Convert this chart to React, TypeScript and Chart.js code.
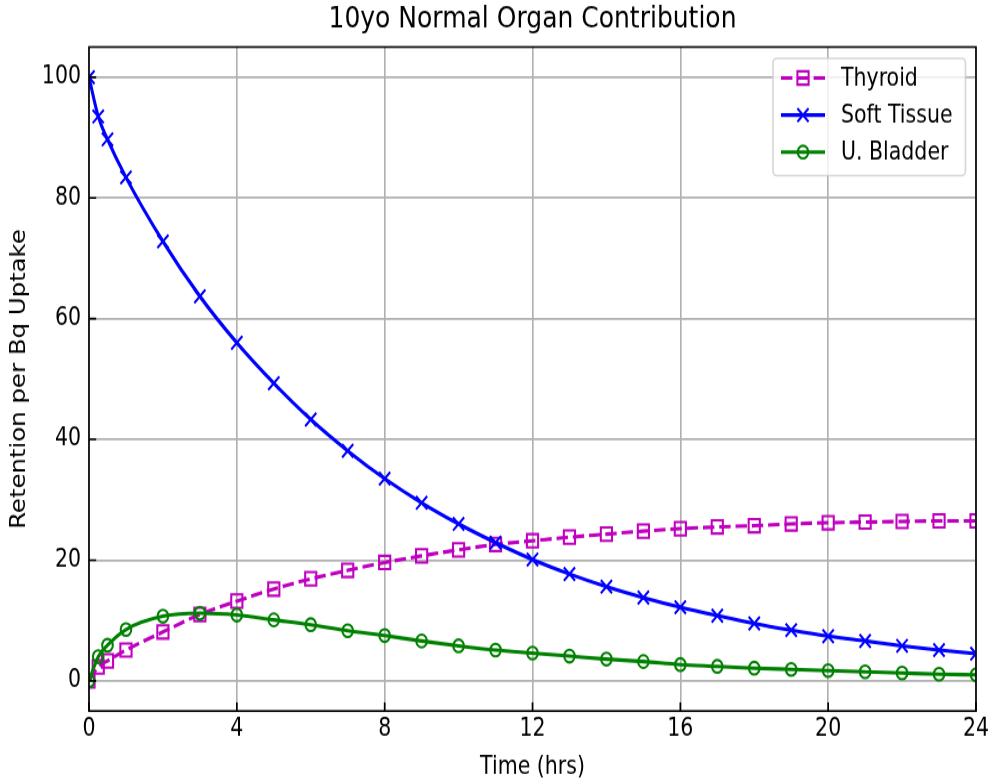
import React, { useEffect, useRef } from "react";
import { Chart, registerables } from "chart.js";
Chart.register(...registerables);

const timeHrs = [0, 0.25, 0.5, 1, 2, 3, 4, 5, 6, 7, 8, 9, 10, 11, 12, 13, 14, 15, 16, 17, 18, 19, 20, 21, 22, 23, 24];
const thyroid = [0, 2.3, 3.3, 5.1, 8.1, 11.0, 13.2, 15.2, 16.9, 18.3, 19.6, 20.7, 21.7, 22.6, 23.2, 23.8, 24.3, 24.8, 25.2, 25.5, 25.7, 26.0, 26.2, 26.3, 26.4, 26.5, 26.5];
const softTissue = [100, 93.5, 89.7, 83.4, 72.8, 63.7, 56.0, 49.3, 43.3, 38.1, 33.5, 29.5, 26.0, 22.9, 20.1, 17.7, 15.6, 13.8, 12.2, 10.8, 9.5, 8.4, 7.4, 6.6, 5.8, 5.1, 4.5];
const bladder = [0, 4.0, 5.9, 8.5, 10.7, 11.2, 10.9, 10.1, 9.3, 8.3, 7.5, 6.6, 5.8, 5.1, 4.6, 4.1, 3.6, 3.2, 2.7, 2.4, 2.1, 1.9, 1.7, 1.5, 1.3, 1.1, 1.0];

const xTicks = [0, 4, 8, 12, 16, 20, 24];
const yTicks = [0, 20, 40, 60, 80, 100];
const seriesNames = ["Thyroid", "Soft Tissue", "U. Bladder"];
const seriesColors = ["#bf00bf", "#0000ff", "#008000"];
const titleText = "10yo Normal Organ Contribution";
const xLabel = "Time (hrs)";
const yLabel = "Retention per Bq Uptake";

const W = 992;
const H = 656;
const SCALE_Y = 781 / H;
const FONT = "'DejaVu Sans', sans-serif";

function drawMarker(ctx: CanvasRenderingContext2D, kind: string, x: number, y: number, color: string) {
  ctx.save();
  ctx.setLineDash([]);
  ctx.strokeStyle = color;
  ctx.lineWidth = 2.06;
  ctx.beginPath();
  if (kind === "rect") {
    const s = 5.6;
    ctx.rect(x - s, y - s, 2 * s, 2 * s);
  } else if (kind === "crossRot") {
    const s = 5.6;
    ctx.moveTo(x - s, y - s);
    ctx.lineTo(x + s, y + s);
    ctx.moveTo(x - s, y + s);
    ctx.lineTo(x + s, y - s);
  } else {
    ctx.arc(x, y, 5.3, 0, Math.PI * 2);
  }
  ctx.stroke();
  ctx.restore();
}

const overlayPlugin = {
  id: "overlay",
  afterDatasetsDraw(chart: any) {
    const { ctx, chartArea: a, scales } = chart;
    ctx.save();
    // inward ticks
    ctx.strokeStyle = "#000";
    ctx.lineWidth = 1.64;
    ctx.setLineDash([]);
    ctx.beginPath();
    yTicks.forEach((v) => {
      const y = scales.y.getPixelForValue(v);
      ctx.moveTo(a.left, y);
      ctx.lineTo(a.left + 7.2, y);
    });
    xTicks.forEach((v) => {
      const x = scales.x.getPixelForValue(v);
      ctx.moveTo(x, a.bottom);
      ctx.lineTo(x, a.bottom - 7.2);
    });
    ctx.stroke();
    // frame
    ctx.strokeRect(a.left, a.top, a.right - a.left, a.bottom - a.top);

    // legend
    const lx = 773, ly = 49, lw = 192.5, lh = 98.5;
    ctx.beginPath();
    (ctx as any).roundRect(lx, ly, lw, lh, 4);
    ctx.fillStyle = "rgba(255,255,255,0.8)";
    ctx.fill();
    ctx.strokeStyle = "rgba(204,204,204,0.8)";
    ctx.lineWidth = 1.64;
    ctx.stroke();
    const rows = [65.5, 96.6, 127.7];
    const kinds = ["rect", "crossRot", "circle"];
    ctx.font = `20.5px ${FONT}`;
    ctx.textBaseline = "middle";
    ctx.textAlign = "left";
    seriesNames.forEach((name, i) => {
      const y = rows[i];
      ctx.save();
      ctx.strokeStyle = seriesColors[i];
      ctx.lineWidth = 3.08;
      ctx.setLineDash(i === 0 ? [11.4, 4.9] : []);
      ctx.beginPath();
      ctx.moveTo(781, y);
      ctx.lineTo(825, y);
      ctx.stroke();
      ctx.restore();
      drawMarker(ctx, kinds[i], 803, y, seriesColors[i]);
      ctx.fillStyle = "#000";
      ctx.fillText(name, 841, y + 1);
    });

    // title
    const cx = (a.left + a.right) / 2;
    ctx.fillStyle = "#000";
    ctx.textAlign = "center";
    ctx.textBaseline = "alphabetic";
    ctx.font = `25px ${FONT}`;
    ctx.fillText(titleText, cx, 23);
    // x label
    ctx.font = `20.5px ${FONT}`;
    ctx.fillText(xLabel, cx, 649.5);
    // y label
    ctx.save();
    ctx.translate(25, (a.top + a.bottom) / 2);
    ctx.rotate(-Math.PI / 2);
    ctx.fillText(yLabel, 0, 0);
    ctx.restore();

    ctx.restore();
  },
};

export default function App() {
  const ref = useRef<HTMLCanvasElement | null>(null);
  useEffect(() => {
    const canvas = ref.current;
    if (!canvas) return;
    const mk = (i: number, data: number[], style: string, radius: number, order: number, dash: number[]) => ({
      label: seriesNames[i],
      data: timeHrs.map((t, k) => ({ x: t, y: data[k] })),
      borderColor: seriesColors[i],
      backgroundColor: seriesColors[i],
      borderWidth: 3.08,
      borderDash: dash,
      pointStyle: style,
      pointRadius: radius,
      pointBorderWidth: 2.06,
      pointBorderColor: seriesColors[i],
      pointBackgroundColor: "rgba(0,0,0,0)",
      cubicInterpolationMode: "monotone",
      fill: false,
      order,
    });
    const chart = new Chart(canvas, {
      type: "line",
      data: {
        datasets: [
          mk(0, thyroid, "rect", 7.9, 3, [11.4, 4.9]),
          mk(1, softTissue, "crossRot", 7.9, 2, []),
          mk(2, bladder, "circle", 5.3, 1, []),
        ] as any,
      },
      options: {
        animation: false,
        responsive: false,
        devicePixelRatio: 1,
        events: [],
        layout: { padding: { top: 47 / SCALE_Y, right: 16, left: 0, bottom: 0 } },
        plugins: { legend: { display: false }, title: { display: false }, tooltip: { enabled: false } },
        scales: {
          x: {
            type: "linear",
            min: 0,
            max: 24,
            afterFit: (s: any) => {
              s.height = H - 711 / SCALE_Y;
              s.paddingLeft = 0;
              s.paddingRight = 0;
            },
            afterBuildTicks: (s: any) => {
              s.ticks = xTicks.map((v) => ({ value: v }));
            },
            grid: { color: "#b0b0b0", lineWidth: 1.64, drawTicks: false },
            border: { display: false },
            ticks: { color: "#000", font: { family: FONT, size: 20.5 }, padding: 3.5, maxRotation: 0, autoSkip: false },
          },
          y: {
            type: "linear",
            min: -5,
            max: 105,
            afterFit: (s: any) => {
              s.width = 89;
              s.paddingTop = 0;
              s.paddingBottom = 0;
            },
            afterBuildTicks: (s: any) => {
              s.ticks = yTicks.map((v) => ({ value: v }));
            },
            grid: { color: "#b0b0b0", lineWidth: 1.64, drawTicks: false },
            border: { display: false },
            ticks: { color: "#000", font: { family: FONT, size: 20.5 }, padding: 8, autoSkip: false },
          },
        },
      } as any,
      plugins: [overlayPlugin],
    });
    canvas.style.width = W + "px";
    canvas.style.height = "781px";
    return () => chart.destroy();
  }, []);
  return (
    <div style={{ position: "absolute", left: 0, top: 0, width: W, height: 781, background: "#fff" }}>
      <canvas ref={ref} width={W} height={H} style={{ display: "block", width: W + "px", height: "781px" }} />
    </div>
  );
}
